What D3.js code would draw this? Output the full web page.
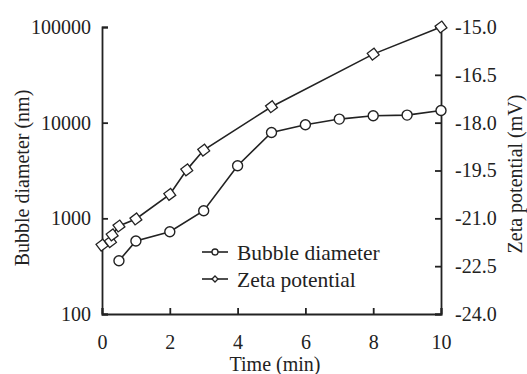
<!DOCTYPE html>
<html>
<head>
<meta charset="utf-8">
<script src="https://cdn.jsdelivr.net/npm/d3@7"></script>
<style>
    body { margin: 0; background: #fff; }
    text { font-family: "Liberation Serif", "Times New Roman", serif; fill: #222; }
</style>
</head>
<body>
<div id="chart"></div>
<script>
const timeBubble = [0.5, 1, 2, 3, 4, 5, 6, 7, 8, 9, 10];
const bubbleDiameter = [360, 580, 725, 1200, 3550, 7900, 9500, 10900, 11800, 12000, 13400];

const timeZeta = [0, 0.25, 0.3, 0.5, 1, 2, 2.5, 3, 5, 8, 10];
const zetaPotential = [-21.84, -21.73, -21.52, -21.24, -21.02, -20.25, -19.48, -18.86, -17.5, -15.85, -15.0];

const xTicks = [0, 2, 4, 6, 8, 10];
const leftTicks = [100, 1000, 10000, 100000];
const rightTicks = [-24, -22.5, -21, -19.5, -18, -16.5, -15];

const dim = { width: 527, height: 374 };
const margin = { top: 27, left: 102, right: 86, bottom: 60 };
const ink = "#222";

const svg = d3.select("#chart").append("svg")
    .attr("width", dim.width)
    .attr("height", dim.height);

const xScale = d3.scaleLinear()
    .domain([0, 10])
    .range([margin.left, dim.width - margin.right]);

const yLeft = d3.scaleLog()
    .domain([100, 100000])
    .range([dim.height - margin.bottom, margin.top]);

const yRight = d3.scaleLinear()
    .domain([-24, -15])
    .range([dim.height - margin.bottom, margin.top]);

// axes, ticks pointing inward
const xAxis = svg.append("g")
    .attr("transform", `translate(0, ${dim.height - margin.bottom})`)
    .call(d3.axisTop(xScale).tickValues(xTicks).tickSizeOuter(0).tickSize(6).tickFormat(d3.format("d")));
xAxis.selectAll("text").attr("y", 21).attr("dy", "0.71em");

const leftAxis = svg.append("g")
    .attr("transform", `translate(${margin.left},0)`)
    .call(d3.axisRight(yLeft).tickValues(leftTicks).tickSizeOuter(0).tickSize(6).tickFormat(d3.format("d")));
leftAxis.selectAll("text").attr("x", -11).attr("text-anchor", "end");

// hyphen instead of unicode minus, like the original
const zetaFormat = d => d3.format(".1f")(d).replace("\u2212", "-");
const rightAxis = svg.append("g")
    .attr("transform", `translate(${dim.width - margin.right},0)`)
    .call(d3.axisLeft(yRight).tickValues(rightTicks).tickSizeOuter(0).tickSize(6).tickFormat(zetaFormat));
rightAxis.selectAll("text").attr("x", 14).attr("text-anchor", "start");

svg.selectAll(".domain").attr("stroke", ink).attr("stroke-width", 1.8);
svg.selectAll(".tick line").attr("stroke", ink).attr("stroke-width", 1.8);
svg.selectAll(".tick text").attr("font-size", 20).attr("fill", ink);

// axis titles
svg.append("text")
    .attr("x", 275)
    .attr("y", 371)
    .attr("text-anchor", "middle")
    .attr("font-size", 20)
    .text("Time (min)");

svg.append("text")
    .attr("transform", "translate(29, 178) rotate(-90)")
    .attr("text-anchor", "middle")
    .attr("font-size", 20)
    .text("Bubble diameter (nm)");

svg.append("text")
    .attr("transform", "translate(522, 174) rotate(-90)")
    .attr("text-anchor", "middle")
    .attr("font-size", 20)
    .text("Zeta potential (mV)");

const diamond = s => `M0,${-s}L${s},0L0,${s}L${-s},0Z`;

// bubble diameter
const bubbleData = timeBubble.map((t, i) => ({ t: t, v: bubbleDiameter[i] }));
svg.append("path")
    .datum(bubbleData)
    .attr("fill", "none")
    .attr("stroke", ink)
    .attr("stroke-width", 1.6)
    .attr("d", d3.line().x(d => xScale(d.t)).y(d => yLeft(d.v)));

svg.selectAll(".bubble")
    .data(bubbleData)
    .enter().append("circle")
    .attr("class", "bubble")
    .attr("cx", d => xScale(d.t))
    .attr("cy", d => yLeft(d.v))
    .attr("r", 5)
    .attr("fill", "#fff")
    .attr("stroke", ink)
    .attr("stroke-width", 1.4);

// zeta potential
const zetaData = timeZeta.map((t, i) => ({ t: t, v: zetaPotential[i] }));
svg.append("path")
    .datum(zetaData)
    .attr("fill", "none")
    .attr("stroke", ink)
    .attr("stroke-width", 1.6)
    .attr("d", d3.line().x(d => xScale(d.t)).y(d => yRight(d.v)));

svg.selectAll(".zeta")
    .data(zetaData)
    .enter().append("path")
    .attr("class", "zeta")
    .attr("transform", d => `translate(${xScale(d.t)},${yRight(d.v)}) rotate(8)`)
    .attr("d", diamond(6))
    .attr("fill", "#fff")
    .attr("stroke", ink)
    .attr("stroke-width", 1.3);

// legend
const legend = svg.append("g").attr("transform", "translate(202, 252)");
const legendItems = ["Bubble diameter", "Zeta potential"];
legendItems.forEach((name, i) => {
    const g = legend.append("g").attr("transform", `translate(0, ${i * 27})`);
    g.append("line")
        .attr("x1", 0).attr("x2", 26)
        .attr("stroke", ink).attr("stroke-width", 1.6);
    if (i === 0) {
        g.append("circle").attr("cx", 13).attr("r", 3)
            .attr("fill", "#fff").attr("stroke", ink).attr("stroke-width", 1.3);
    } else {
        g.append("path").attr("transform", "translate(13,0)").attr("d", diamond(3))
            .attr("fill", "#fff").attr("stroke", ink).attr("stroke-width", 1.3);
    }
    g.append("text")
        .attr("x", 35)
        .attr("dy", "0.35em")
        .attr("font-size", 21.5)
        .text(name);
});
</script>
</body>
</html>
